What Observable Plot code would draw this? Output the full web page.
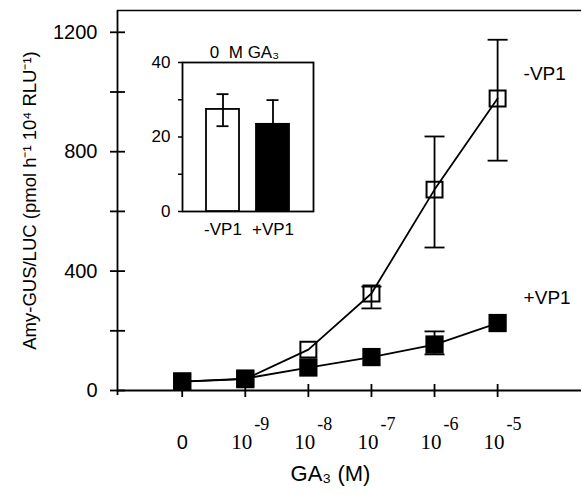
<!DOCTYPE html>
<html><head><meta charset="utf-8">
<script src="https://cdn.jsdelivr.net/npm/d3@7"></script>
<script src="https://cdn.jsdelivr.net/npm/@observablehq/plot@0.6"></script>
<style>
body{margin:0;background:#fff}
#wrap{position:relative;width:582px;height:495px}
#wrap svg{position:absolute;left:0;top:0}
</style>
</head><body><div id="wrap"></div>
<script>
// ---- data ----
const positions = [0, 1, 2, 3, 4, 5];
const xBase = ["0", "10", "10", "10", "10", "10"];
const xExp = ["", "-9", "-8", "-7", "-6", "-5"];
const minusVP1 = [30, 38, 137, 325, 673, 978];
const minusLow = [null, null, null, 275, 479, 770];
const minusHigh = [null, null, null, 348, 851, 1175];
const plusVP1 = [30, 40, 77, 112, 154, 226];
const plusLow = [null, null, null, null, 121, null];
const plusHigh = [null, null, null, null, 198, null];
const yTicksMajor = [0, 400, 800, 1200];
const yTicksAll = [0, 200, 400, 600, 800, 1000, 1200];
const seriesNames = ["-VP1", "+VP1"];
const yTitle = "Amy-GUS/LUC (pmol h\u207B\u00B9 10\u2074 RLU\u207B\u00B9)";
const xTitle = "GA\u2083 (M)";

const insetCats = ["-VP1", "+VP1"];
const insetVals = [27.4, 23.4];
const insetLow = [22.9, null];
const insetHigh = [31.5, 29.9];
const insetTicks = [0, 10, 20, 30, 40];
const insetTitle = "0\u00A0\u00A0M GA\u2083";

// ---- tables ----
const mkRows = (name, vals, lo, hi) => positions.map((p, i) => ({pos: p, series: name, val: vals[i], lo: lo[i], hi: hi[i]}));
const minusRows = mkRows(seriesNames[0], minusVP1, minusLow, minusHigh);
const plusRows = mkRows(seriesNames[1], plusVP1, plusLow, plusHigh);
const allRows = minusRows.concat(plusRows);
const errRows = allRows.filter(d => d.lo != null);
const capRows = errRows.flatMap(d => [{pos: d.pos, v: d.lo}, {pos: d.pos, v: d.hi}]);
const lastRows = [minusRows[minusRows.length - 1], plusRows[plusRows.length - 1]];
const xTickRows = positions.map((p, i) => ({pos: p, base: xBase[i], exp: xExp[i]}));

const insetRows = insetCats.map((c, i) => ({cat: c, val: insetVals[i], lo: insetLow[i] ?? insetVals[i], hi: insetHigh[i]}));
const insetCaps = insetCats.flatMap((c, i) => [insetLow[i], insetHigh[i]].filter(v => v != null).map(v => ({cat: c, v})));

const hLine = {draw(ctx, size) { const r = Math.sqrt(size / Math.PI); ctx.moveTo(-r, 0); ctx.lineTo(r, 0); }};
const vLine = {draw(ctx, size) { const r = Math.sqrt(size / Math.PI); ctx.moveTo(0, -r); ctx.lineTo(0, r); }};

const sans = "'Liberation Sans', Arial, Helvetica, sans-serif";
const serif = "'Liberation Serif', 'Times New Roman', serif";
const xDom = [-1.026, 6.33];
const yDom = [0, 1273];
const SW = 1.8;

const main = Plot.plot({
  width: 582, height: 495,
  marginLeft: 117, marginRight: 1, marginTop: 10, marginBottom: 105,
  style: {fontFamily: sans, fontSize: "20px", color: "black", background: "white"},
  x: {domain: xDom, axis: null},
  y: {domain: yDom},
  marks: [
    Plot.ruleY([yDom[1]], {stroke: "black", strokeWidth: 1.5}),
    Plot.ruleX([xDom[0]], {stroke: "black", strokeWidth: SW, insetBottom: -5}),
    Plot.ruleY([0], {stroke: "black", strokeWidth: SW}),
    Plot.dot(yTicksAll, {y: d => d, frameAnchor: "left", symbol: hLine, r: 7.5, stroke: "black", fill: "none", strokeWidth: SW}),
    Plot.dot(positions, {x: d => d, frameAnchor: "bottom", symbol: vLine, r: 6.5, stroke: "black", fill: "none", strokeWidth: SW}),
    Plot.axisY({ticks: yTicksMajor, tickSize: 0, tickPadding: 20, tickFormat: d => String(d), label: null, fontSize: 20, fontFamily: sans}),
    Plot.text(xTickRows.filter(d => d.exp === ""), {x: "pos", text: "base", frameAnchor: "bottom", dy: 58, lineAnchor: "bottom", textAnchor: "middle", fontSize: 20, fontFamily: sans}),
    Plot.text(xTickRows.filter(d => d.exp !== ""), {x: "pos", text: "base", frameAnchor: "bottom", dy: 58, dx: 7, textAnchor: "end", lineAnchor: "bottom", fontSize: 21, fontFamily: serif}),
    Plot.text(xTickRows.filter(d => d.exp !== ""), {x: "pos", text: "exp", frameAnchor: "bottom", dy: 39, dx: 9, textAnchor: "start", lineAnchor: "bottom", fontSize: 18, fontFamily: serif}),
    Plot.text([yTitle], {frameAnchor: "left", dx: -87, rotate: -90, textAnchor: "middle", lineAnchor: "middle", fontSize: 18.5, fontFamily: sans}),
    Plot.text([xTitle], {frameAnchor: "bottom", dy: 90, dx: -19, lineAnchor: "bottom", textAnchor: "middle", fontSize: 22, fontFamily: sans}),
    Plot.line(allRows, {x: "pos", y: "val", z: "series", stroke: "black", strokeWidth: SW}),
    Plot.ruleX(errRows, {x: "pos", y1: "lo", y2: "hi", stroke: "black", strokeWidth: SW}),
    Plot.dot(capRows, {x: "pos", y: "v", symbol: hLine, r: 10, stroke: "black", fill: "none", strokeWidth: SW}),
    Plot.dot(minusRows, {x: "pos", y: "val", symbol: "square", r: 9, fill: "none", stroke: "black", strokeWidth: 2}),
    Plot.dot(plusRows, {x: "pos", y: "val", symbol: "square", r: 10.3, fill: "black", stroke: "none"}),
    Plot.text(lastRows, {x: "pos", y: "val", text: "series", dx: 26, dy: -25, textAnchor: "start", fontSize: 19, fontFamily: sans})
  ]
});

const inset = Plot.plot({
  width: 582, height: 495,
  marginLeft: 182, marginRight: 269, marginTop: 62, marginBottom: 284,
  style: {fontFamily: sans, fontSize: "17px", color: "black", background: "transparent"},
  x: {type: "band", domain: insetCats, range: [205, 288.5], paddingInner: 0.35, paddingOuter: 0},
  y: {domain: [0, 40]},
  marks: [
    Plot.frame({stroke: "black", strokeWidth: SW}),
    Plot.barY(insetRows, {x: "cat", y: "val", fill: d => d.cat === insetCats[0] ? "white" : "black", stroke: "black", strokeWidth: SW}),
    Plot.ruleX(insetRows, {x: "cat", y1: "lo", y2: "hi", stroke: "black", strokeWidth: SW}),
    Plot.tickY(insetCaps, {x: "cat", y: "v", insetLeft: 10.5, insetRight: 10.5, stroke: "black", strokeWidth: SW}),
    Plot.axisY({ticks: insetTicks, tickSize: 4, tickPadding: 8, tickFormat: d => d % 20 === 0 ? String(d) : "", label: null, fontSize: 17, fontFamily: sans, strokeWidth: 1.5}),
    Plot.axisX({tickSize: 0, tickPadding: 11, label: null, fontSize: 17, fontFamily: sans}),
    Plot.text([insetTitle], {frameAnchor: "top", dy: -5, dx: -3.5, lineAnchor: "bottom", textAnchor: "middle", fontSize: 17, fontFamily: sans})
  ]
});

document.getElementById("wrap").append(main, inset);
</script>
</body></html>
